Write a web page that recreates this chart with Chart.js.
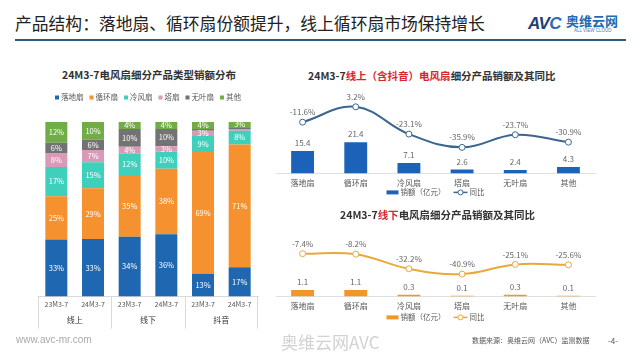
<!DOCTYPE html>
<html><head><meta charset="utf-8">
<script src="https://cdn.jsdelivr.net/npm/chart.js@4.4.1/dist/chart.umd.min.js"></script>
<style>
body{margin:0;width:640px;height:360px;background:#fff;position:relative;overflow:hidden;font-family:"Noto Sans CJK SC","Noto Sans",sans-serif;}
.abs{position:absolute;white-space:nowrap;line-height:1;}
canvas{position:absolute;}
.ct{font-size:10.5px;font-weight:bold;color:#333;}
.red{color:#d9262c;}
</style></head><body>
<div class="abs" style="left:15px;top:15px;font-size:16.8px;color:#222;">产品结构：落地扇、循环扇份额提升，线上循环扇市场保持增长</div>
<div class="abs" style="left:15px;top:39px;width:611px;height:2px;background:#2e5a7a"></div>
<div class="abs" style="left:528px;top:15px;font-size:17px;font-weight:bold;font-style:italic;color:#1d3f77;font-family:'Liberation Sans',sans-serif;letter-spacing:-0.5px;">AV<span style="color:#2b6cb5">C</span></div>
<div class="abs" style="left:566px;top:14px;font-size:13px;font-weight:bold;color:#1f6ab3;">奥维云网</div>
<div class="abs" style="left:574px;top:29px;font-size:4.5px;color:#4a7ab0;font-family:'Liberation Sans',sans-serif;">ALL VIEW CLOUD</div>

<div class="abs ct" style="left:18px;width:262px;text-align:center;top:70px;">24M3-7电风扇细分产品类型销额分布</div>
<canvas id="c1" width="262" height="278" style="left:18px;top:60px"></canvas>

<div class="abs ct" style="left:308px;top:71px;">24M3-7<span class="red">线上（含抖音）电风扇</span>细分产品销额及其同比</div>
<canvas id="c2" width="332" height="114" style="left:270px;top:91px"></canvas>

<div class="abs ct" style="left:340px;top:210px;">24M3-7<span class="red">线下</span>电风扇细分产品销额及其同比</div>
<canvas id="c3" width="332" height="94" style="left:270px;top:234px"></canvas>

<div class="abs" style="left:16px;top:335px;font-size:10px;color:#aaa;font-family:'Liberation Sans',sans-serif;">www.avc-mr.com</div>
<div class="abs" style="left:281px;top:333px;font-size:17px;color:#d2d2d2;">奥维云网AVC</div>
<div class="abs" style="left:472px;top:337px;font-size:7px;color:#555;">数据来源：奥维云网（AVC）监测数据</div>
<div class="abs" style="left:608px;top:337px;font-size:8px;color:#555;">-4-</div>

<script>
const FONT = '"Noto Sans CJK SC","Noto Sans",sans-serif';
// ---- data ----
const stackCategories = ['23M3-7','24M3-7','23M3-7','24M3-7','23M3-7','24M3-7'];
const channelGroups = ['线上','线下','抖音'];
const productTypes = ['落地扇','循环扇','冷风扇','塔扇','无叶扇','其他'];
const shareFloor     = [33,33,34,36,13,17];
const shareCirc      = [25,29,35,38,69,71];
const shareCool      = [17,15,12,10,9,8];
const shareTower     = [8,7,4,3,3,1];
const shareBladeless = [6,6,10,10,1,1];
const shareOther     = [12,10,4,4,4,3];
const onlineSales = [15.4,21.4,7.1,2.6,2.4,4.3];
const onlineYoY   = [-11.6,3.2,-23.1,-35.9,-23.7,-30.9];
const offlineSales = [1.1,1.1,0.3,0.1,0.3,0.1];
const offlineYoY   = [-7.4,-8.2,-32.2,-40.9,-25.1,-25.6];

Chart.defaults.font.family = FONT;
const shareSeries = [shareFloor,shareCirc,shareCool,shareTower,shareBladeless,shareOther];
const shareColors = ['#1f67b1','#f5922f','#3fd0bb','#d99ab8','#737373','#70ad47'];
const totals = stackCategories.map((_,j)=>shareSeries.reduce((s,a)=>s+a[j],0));

const segLabels = {
  id:'segLabels',
  afterDatasetsDraw(chart){
    const ctx=chart.ctx; ctx.save();
    ctx.font='7.5px '+FONT; ctx.fillStyle='#fff'; ctx.textAlign='center'; ctx.textBaseline='middle';
    chart.data.datasets.forEach((ds,i)=>{
      chart.getDatasetMeta(i).data.forEach((el,j)=>{
        const v=ds.raw[j]; if(v<3) return;
        ctx.fillText(v+'%', el.x, (el.y+el.base)/2);
      });
    });
    ctx.restore();
  }
};
const groupAxis = {
  id:'groupAxis',
  afterDraw(chart){
    const ctx=chart.ctx, x=chart.scales.x, b=chart.chartArea.bottom;
    const w = x.getPixelForValue(1)-x.getPixelForValue(0);
    ctx.save(); ctx.strokeStyle='#d9d9d9'; ctx.lineWidth=1;
    ctx.font='8px '+FONT; ctx.fillStyle='#333'; ctx.textAlign='center'; ctx.textBaseline='middle';
    channelGroups.forEach((g,k)=>{
      const l = x.getPixelForValue(2*k)-w/2, r = x.getPixelForValue(2*k+1)+w/2;
      ctx.beginPath(); ctx.moveTo(Math.round(l)+0.5,b); ctx.lineTo(Math.round(l)+0.5,b+32); ctx.stroke();
      if(k===channelGroups.length-1){ctx.beginPath(); ctx.moveTo(Math.round(r)-0.5,b); ctx.lineTo(Math.round(r)-0.5,b+32); ctx.stroke();}
      ctx.fillText(g,(l+r)/2,b+23.5);
    });
    ctx.restore();
  }
};
const boxLegend = {
  id:'boxLegend',
  afterDraw(chart){
    const ctx=chart.ctx, ca=chart.chartArea; ctx.save();
    ctx.font='7.5px '+FONT; ctx.textBaseline='middle';
    const box=4, gap=2, sp=6;
    const items=chart.data.datasets.map(d=>({t:d.label,c:d.backgroundColor,w:ctx.measureText(d.label).width}));
    const total=items.reduce((s,it)=>s+box+gap+it.w,0)+sp*(items.length-1);
    let x=(ca.left+ca.right)/2-total/2; const y=ca.top-24.5;
    items.forEach(it=>{
      ctx.fillStyle=it.c; ctx.fillRect(x,y-box/2,box,box); x+=box+gap;
      ctx.fillStyle='#595959'; ctx.fillText(it.t,x,y); x+=it.w+sp;
    });
    ctx.restore();
  }
};

new Chart(document.getElementById('c1'),{
  type:'bar',
  data:{labels:stackCategories,
    datasets:productTypes.map((name,i)=>({label:name, raw:shareSeries[i],
      data:shareSeries[i].map((v,j)=>v/totals[j]*100),
      backgroundColor:shareColors[i], borderWidth:0, barPercentage:0.6, categoryPercentage:1}))},
  options:{responsive:false, animation:false,
    layout:{padding:{left:20,right:22,top:62,bottom:25}},
    plugins:{legend:{display:false},tooltip:{enabled:false}},
    scales:{
      x:{stacked:true,grid:{display:false,drawTicks:false},border:{color:'#d9d9d9'},ticks:{font:{size:7},color:'#595959',padding:4,maxRotation:0}},
      y:{stacked:true,display:false,min:0,max:100}}
  },
  plugins:[segLabels,groupAxis,boxLegend]
});

const valLabels = {
  id:'valLabels',
  afterDatasetsDraw(chart){
    const ctx=chart.ctx; ctx.save();
    ctx.font='8px '+FONT; ctx.fillStyle='#666'; ctx.textAlign='center'; ctx.textBaseline='middle';
    chart.data.datasets.forEach((ds,i)=>{
      chart.getDatasetMeta(i).data.forEach((el,j)=>{
        const v=ds.data[j];
        if(ds.type==='bar') ctx.fillText(v.toFixed(1), el.x, el.y-8);
        else ctx.fillText(v.toFixed(1)+'%', el.x, el.y-10);
      });
    });
    ctx.restore();
  }
};
const comboLegend = {
  id:'comboLegend',
  afterDraw(chart,args,opts){
    const ctx=chart.ctx, ca=chart.chartArea; ctx.save();
    ctx.font='7.5px '+FONT; ctx.textBaseline='middle';
    const [bar,line]=chart.data.datasets;
    const wb=ctx.measureText(bar.label).width, wl=ctx.measureText(line.label).width;
    const total=12+2+wb+8+14+2+wl;
    let x=(ca.left+ca.right)/2-total/2; const y=ca.bottom+opts.offset;
    ctx.fillStyle=bar.backgroundColor; ctx.fillRect(x,y-2,12,4); x+=14;
    ctx.fillStyle='#595959'; ctx.fillText(bar.label,x,y); x+=wb+8;
    ctx.strokeStyle=line.borderColor; ctx.lineWidth=1.5; ctx.beginPath(); ctx.moveTo(x,y); ctx.lineTo(x+14,y); ctx.stroke();
    ctx.fillStyle='#fff'; ctx.lineWidth=1; ctx.beginPath(); ctx.arc(x+7,y,2.5,0,Math.PI*2); ctx.fill(); ctx.stroke(); x+=16;
    ctx.fillStyle='#595959'; ctx.fillText(line.label,x,y);
    ctx.restore();
  }
};
function comboChart(id,sales,yoy,barColor,lineColor,barMax,lineMin,lineMax,padTop,legendOffset){
  new Chart(document.getElementById(id),{
    data:{labels:productTypes,datasets:[
      {type:'bar',label:'销额（亿元）',data:sales,yAxisID:'y',backgroundColor:barColor,barPercentage:0.43,categoryPercentage:1},
      {type:'line',label:'同比',data:yoy,yAxisID:'y2',borderColor:lineColor,borderWidth:2,tension:0.4,
       pointRadius:3,pointBackgroundColor:'#fff',pointBorderColor:lineColor,pointBorderWidth:1}
    ]},
    options:{responsive:false,animation:false,
      layout:{padding:{left:6,right:7,top:padTop,bottom:12}},
      plugins:{legend:{display:false},tooltip:{enabled:false},comboLegend:{offset:legendOffset}},
      scales:{
        x:{grid:{display:false,drawTicks:false},border:{color:'#e0e0e0'},ticks:{font:{size:8},color:'#595959',padding:5}},
        y:{display:false,min:0,max:barMax},
        y2:{display:false,min:lineMin,max:lineMax}}
    },
    plugins:[valLabels,comboLegend]
  });
}
comboChart('c2',onlineSales,onlineYoY,'#1b62b8','#3a6690',51.6,-61,11.7,7,19);
comboChart('c3',offlineSales,offlineYoY,'#f0962a','#e9a93a',9.2,-77.6,11.8,8,21);
</script>
</body></html>
